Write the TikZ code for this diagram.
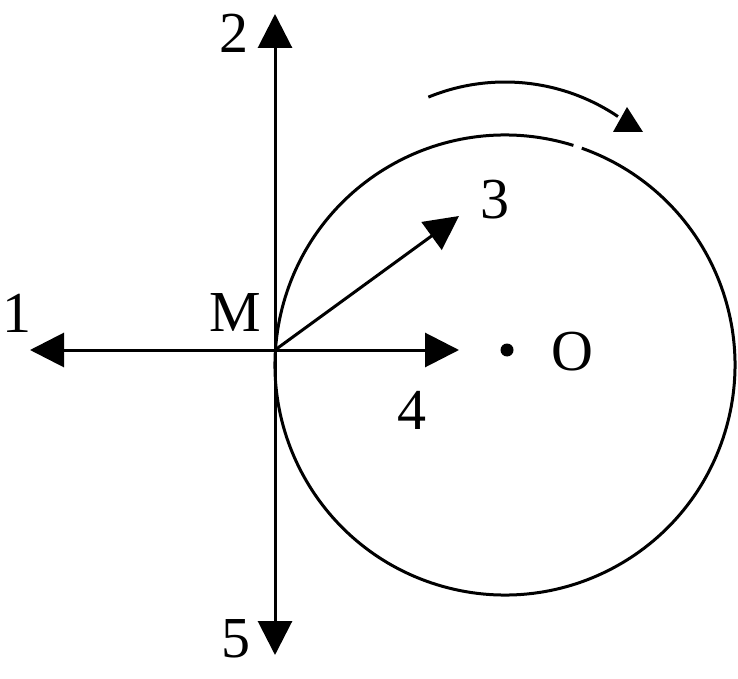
\documentclass[tikz,border=0pt]{standalone}
\usepackage{fontspec}
\setmainfont{Liberation Serif}
\usetikzlibrary{arrows.meta}

\begin{document}
\begin{tikzpicture}[
  x=1pt, y=1pt,
  font=\fontsize{58}{60}\selectfont,
  axis/.style = {line width=3pt, -{Triangle[length=34pt, width=34pt]}},
  rim/.style  = {line width=3pt},
  lbl/.style  = {inner sep=0pt},
]
\useasboundingbox (0,0) rectangle (738,678);

\def\cx{505}   % circle centre x
\def\cy{313}   % circle centre y
\def\rr{230}   % circle radius

% ---- points ---------------------------------------------------------------
\coordinate (M)  at (275,328);
\coordinate (c)  at (\cx,\cy);
\coordinate (t1) at (30,328);
\coordinate (t2) at (275,664);
\coordinate (t3) at (459,462);
\coordinate (t4) at (459,328);
\coordinate (t5) at (275,23);

% ---- circle (small gap near the top) --------------------------------------
\draw[rim] (c) ++(72.7:\rr) arc[start angle=72.7, end angle=430.5, radius=\rr];
\fill (507,328) circle (6.5pt);

% ---- direction of rotation ------------------------------------------------
\coordinate (rc) at (505,394);
\draw[rim] (rc) ++(112.3:202) arc[start angle=112.3, end angle=56, radius=202];
\fill (627,571) -- (613,546) -- (643,546) -- cycle;

% ---- arrows from M --------------------------------------------------------
\draw[axis] (M) -- (t1);
\draw[axis] (M) -- (t2);
\draw[axis] (M) -- (t3);
\draw[axis] (M) -- (t4);
\draw[axis] (M) -- (t5);

% ---- labels ---------------------------------------------------------------
\node[lbl] (l1) at (17,365)  {1};
\node[lbl] (lM) at (235,365) {M};
\node[lbl] (l2) at (234,645) {2};
\node[lbl] (l3) at (495,478) {3};
\node[lbl] (lO) at (572,326) {O};
\node[lbl] (l4) at (412,268) {4};
\node[lbl] (l5) at (236,39)  {5};

\end{tikzpicture}
\end{document}
